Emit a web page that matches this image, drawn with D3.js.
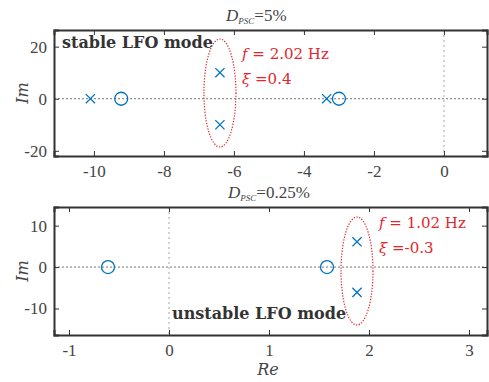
<!DOCTYPE html>
<html>
<head>
<meta charset="utf-8">
<script src="https://cdn.jsdelivr.net/npm/d3@7"></script>
<style>
body { margin: 0; background: #fff; }
text { font-family: 'Liberation Serif', serif; }
</style>
</head>
<body>
<svg id="chart" width="489" height="382"></svg>
<script>
// top panel, D_PSC = 5%
var topPoles = [[-10.1, 0], [-6.4, 10], [-6.4, -10], [-3.35, 0]];
var topZeros = [[-9.22, 0], [-3.0, 0]];
var topXTicks = [-10, -8, -6, -4, -2, 0];
var topYTicks = [-20, 0, 20];
var topLFO = [-6.4, 0];

// bottom panel, D_PSC = 0.25%
var botPoles = [[1.88, 6.1], [1.88, -6.1]];
var botZeros = [[-0.61, 0], [1.58, 0]];
var botXTicks = [-1, 0, 1, 2, 3];
var botYTicks = [-10, 0, 10];
var botLFO = [1.88, 0];

var blue = "#0072BD", red = "#e3262d", axCol = "#333";
var cm = "'DejaVu Serif', serif";
var svg = d3.select("#chart");

function panel(o) {
  var x = d3.scaleLinear().domain(o.xd).range([54, 487]);
  var y = d3.scaleLinear().domain(o.yd).range([o.bottom, o.top]);
  var g = svg.append("g");

  // zero lines
  g.append("line").attr("x1", x(0)).attr("x2", x(0)).attr("y1", o.top).attr("y2", o.bottom)
    .attr("stroke", "#c8c8c8").attr("stroke-width", 1.6).attr("stroke-dasharray", "2,3");
  g.append("line").attr("x1", 54).attr("x2", 487).attr("y1", y(0)).attr("y2", y(0))
    .attr("stroke", "#777").attr("stroke-width", 1).attr("stroke-dasharray", "2,2");

  // axes (ticks inside, box on)
  var tl = 5, fmt = function(d) { return String(d); };
  g.append("g").attr("transform", "translate(0," + o.bottom + ")")
    .call(d3.axisBottom(x).tickValues(o.xt).tickSize(-tl).tickPadding(9).tickFormat(fmt));
  g.append("g").attr("transform", "translate(0," + o.top + ")")
    .call(d3.axisTop(x).tickValues(o.xt).tickSize(-tl).tickFormat(""));
  g.append("g").attr("transform", "translate(54,0)")
    .call(d3.axisLeft(y).tickValues(o.yt).tickSize(-tl).tickPadding(7).tickFormat(fmt));
  g.append("g").attr("transform", "translate(487,0)")
    .call(d3.axisRight(y).tickValues(o.yt).tickSize(-tl).tickFormat(""));
  g.selectAll(".domain").attr("stroke", axCol).attr("stroke-width", 2);
  g.selectAll(".tick line").attr("stroke", axCol).attr("stroke-width", 1);
  g.selectAll(".tick text").attr("fill", "#444").style("font-size", "17px")
    .style("font-family", "'Liberation Serif', serif");

  // LFO ellipse
  g.append("ellipse").attr("cx", x(o.lfo[0])).attr("cy", (o.top + o.bottom) / 2)
    .attr("rx", 16).attr("ry", 54).attr("fill", "none")
    .attr("stroke", red).attr("stroke-width", 1.2).attr("stroke-dasharray", "1.3,1.5");

  // zeros
  g.selectAll("circle.z").data(o.zeros).enter().append("circle")
    .attr("cx", function(d) { return x(d[0]); }).attr("cy", function(d) { return y(d[1]); })
    .attr("r", 6.5).attr("fill", "none").attr("stroke", blue).attr("stroke-width", 1.3);
  // poles
  var s = 4.6;
  g.selectAll("path.p").data(o.poles).enter().append("path")
    .attr("d", function(d) {
      var px = x(d[0]), py = y(d[1]);
      return "M" + (px - s) + "," + (py - s) + "L" + (px + s) + "," + (py + s) +
        "M" + (px - s) + "," + (py + s) + "L" + (px + s) + "," + (py - s);
    })
    .attr("stroke", blue).attr("stroke-width", 1.3).attr("fill", "none");

  // title
  var t = svg.append("text").attr("x", o.tx).attr("y", o.top - 9)
    .attr("fill", "#444").style("font-size", "17px");
  t.append("tspan").style("font-style", "italic").text("D");
  t.append("tspan").style("font-style", "italic").style("font-size", "9px").attr("dy", 3).text("PSC");
  t.append("tspan").attr("dy", -3).text("=" + o.title);

  // ylabel
  svg.append("text").attr("transform", "translate(28," + ((o.top + o.bottom) / 2) + ") rotate(-90)")
    .attr("text-anchor", "middle").attr("fill", "#444").style("font-size", "16px")
    .style("font-family", cm).style("font-style", "italic").text("Im");

  // annotations
  var f = svg.append("text").attr("x", o.fx).attr("y", o.fy).attr("fill", red)
    .style("font-size", "15px").style("font-family", cm);
  f.append("tspan").style("font-style", "italic").text("f");
  f.append("tspan").text(" = " + o.freq + " Hz");
  var z = svg.append("text").attr("x", o.fx).attr("y", o.fy + 25).attr("fill", red)
    .style("font-size", "15px").style("font-family", cm);
  z.append("tspan").style("font-style", "italic").text("ξ");
  z.append("tspan").text(" =" + o.damp);

  svg.append("text").attr("x", o.lx).attr("y", o.ly).attr("fill", "#333")
    .style("font-size", "16px").style("font-family", cm).style("font-weight", "bold").text(o.label);
}

panel({ xd: [-11.14, 1.23], yd: [-22, 26.4], top: 30, bottom: 156, xt: topXTicks, yt: topYTicks,
  poles: topPoles, zeros: topZeros, lfo: topLFO, title: "5%", tx: 226,
  fx: 242, fy: 59, freq: "2.02", damp: "0.4", label: "stable LFO mode", lx: 62, ly: 48 });
panel({ xd: [-1.15, 3.18], yd: [-16.4, 14.5], top: 207, bottom: 335, xt: botXTicks, yt: botYTicks,
  poles: botPoles, zeros: botZeros, lfo: botLFO, title: "0.25%", tx: 228,
  fx: 379, fy: 228, freq: "1.02", damp: "-0.3", label: "unstable LFO mode", lx: 172, ly: 319 });

svg.append("text").attr("x", 268).attr("y", 375).attr("text-anchor", "middle").attr("fill", "#444")
  .style("font-size", "16px").style("font-family", cm).style("font-style", "italic").text("Re");
</script>
</body>
</html>
